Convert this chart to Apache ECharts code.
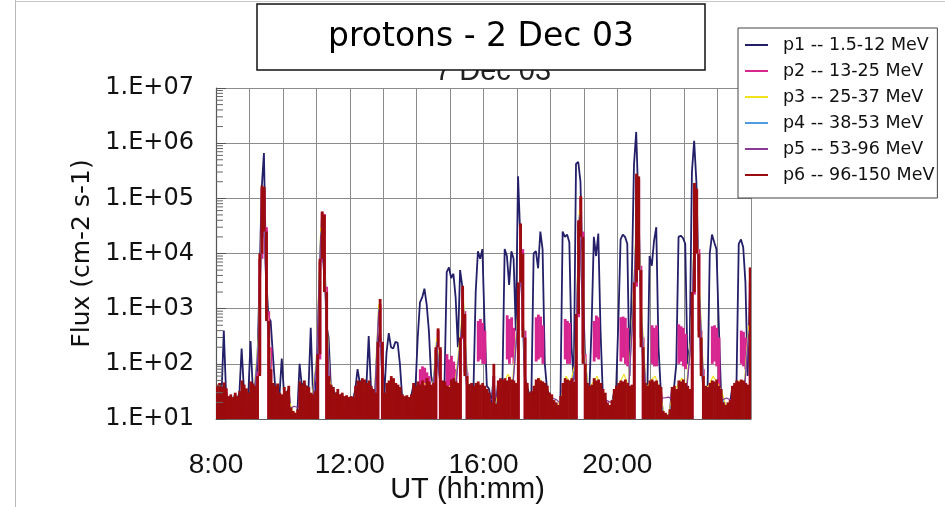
<!DOCTYPE html>
<html>
<head>
<meta charset="utf-8">
<script src="https://cdn.jsdelivr.net/npm/echarts@6/dist/echarts.min.js"></script>
<style>
  html, body { margin: 0; padding: 0; background: #fff; }
  #chart { width: 945px; height: 507px; }
</style>
</head>
<body>
<div id="chart"></div>
<script>
// Proton channel fluxes, 2 Dec 03, 8:00-24:00 UT.
// Time is in minutes after 08:00. Bins are 4 minutes wide (15 per row = one hour).

const BIN = 4;

// p1 -- 1.5-12 MeV, one reading per 4-minute bin (drawn as a line)
const p1 = [
  25, 30, 28, 400, 30, 22, 25, 20, 28, 22, 30, 190, 35, 30, 28,
  260, 35, 40, 80, 3e3, 1.5e5, 6.6e5, 4e3, 700, 600, 150, 40, 35, 28, 124,
  30, 28, 35, 14, 12, 12, 13, 100, 40, 45, 38, 35, 450, 28, 30,
  100, 2e3, 4.5e4, 2e4, 500, 300, 40, 35, 28, 30, 25, 28, 22, 25, 22,
  25, 22, 35, 80, 45, 50, 48, 42, 320, 38, 32, 28, 200, 400, 150,
  28, 160, 360, 200, 190, 250, 240, 100, 25, 22, 24, 22, 25, 40, 38,
  300, 1.3e3, 1.6e3, 2.3e3, 1.2e3, 400, 60, 40, 45, 150, 50, 45, 40, 4.6e3, 5.6e3,
  3.6e3, 4.3e3, 1.6e3, 200, 5e3, 2.5e3, 150, 40, 42, 38, 35, 2e3, 1.1e4, 8e3, 1.2e4,
  500, 40, 35, 18, 60, 16, 45, 50, 48, 1.2e4, 9e3, 2.7e3, 1.1e4, 8e3, 400,
  2.5e5, 2e4, 1e3, 60, 40, 28, 30, 1e4, 1.1e4, 5.4e3, 2.5e4, 1.2e4, 100, 35, 28,
  25, 18, 16, 14, 22, 2.5e4, 2e4, 2.2e4, 1.6e4, 200, 50, 4.2e5, 4.6e5, 2e5, 3e3,
  150, 40, 35, 500, 2e4, 9e3, 2.3e4, 400, 30, 25, 16, 15, 18, 30, 35,
  600, 1.8e4, 2.2e4, 2e4, 1.5e4, 60, 3e3, 4e5, 1.6e6, 8e4, 1.5e3, 100, 40, 30, 9e3,
  6e3, 1.7e4, 3e4, 200, 35, 12, 11, 11, 12, 35, 38, 100, 2e4, 2.1e4, 1.9e4,
  1.5e4, 100, 200, 3e5, 1.1e6, 2e5, 3e3, 150, 40, 35, 30, 1e4, 2.2e4, 1.6e4, 1.2e4,
  600, 35, 16, 15, 16, 18, 35, 40, 45, 1.5e4, 1.8e4, 1.3e4, 3e3, 60, 2e3
];

// p2 -- 13-25 MeV, per-bin minimum and maximum
const p2Lo = [
  10, 10, 10, 10, 10, 10, 10, 10, 10, 10, 10, 10, 10, 10, 10,
  10, 10, 10, 10, 70, 8e3, 2e4, 800, 10, 10, 10, 10, 10, 10, 10,
  10, 10, 10, 10, 10, 10, 10, 10, 10, 10, 10, 10, 10, 10, 10,
  10, 120, 7e3, 2.5e3, 10, 10, 10, 10, 10, 10, 10, 10, 10, 10, 10,
  10, 10, 10, 10, 10, 10, 10, 10, 10, 10, 10, 10, 10, 200, 10,
  10, 10, 10, 10, 10, 10, 10, 10, 10, 10, 10, 10, 10, 10, 10,
  10, 10, 10, 10, 10, 10, 10, 10, 10, 180, 10, 10, 10, 10, 10,
  10, 10, 10, 10, 10, 280, 70, 10, 10, 10, 10, 10, 110, 120, 100,
  100, 10, 10, 10, 10, 10, 10, 10, 10, 10, 120, 100, 130, 100, 10,
  10, 2.5e3, 400, 10, 10, 10, 10, 10, 110, 120, 130, 100, 10, 10, 10,
  10, 10, 10, 10, 10, 10, 120, 100, 100, 10, 10, 10, 700, 1.8e4, 150,
  10, 10, 10, 10, 110, 130, 120, 10, 10, 10, 10, 10, 10, 10, 10,
  10, 110, 130, 100, 90, 10, 10, 10, 2.5e3, 6e3, 300, 10, 10, 10, 10,
  100, 90, 90, 10, 10, 10, 10, 10, 10, 10, 10, 10, 100, 110, 90,
  80, 10, 10, 10, 1.8e3, 1.2e4, 400, 80, 10, 10, 10, 10, 100, 110, 90,
  10, 10, 10, 10, 10, 10, 10, 10, 10, 10, 100, 90, 80, 10, 10
];
const p2Hi = [
  30, 28, 25, 35, 30, 20, 22, 18, 25, 20, 24, 30, 28, 26, 22,
  30, 28, 30, 70, 8e3, 1.5e5, 1.4e5, 3e4, 900, 200, 30, 28, 30, 22, 20,
  25, 22, 28, 12, 11, 11, 12, 30, 28, 32, 26, 25, 22, 20, 24,
  120, 7e3, 5.5e4, 5.2e4, 2.5e3, 80, 30, 26, 22, 25, 20, 22, 18, 20, 18,
  20, 18, 28, 32, 30, 35, 33, 30, 32, 28, 25, 22, 200, 1.2e3, 250,
  22, 30, 35, 40, 38, 30, 28, 25, 20, 18, 20, 18, 20, 30, 28,
  35, 80, 90, 85, 70, 60, 35, 30, 180, 400, 180, 35, 40, 150, 120,
  140, 110, 80, 35, 280, 2.2e3, 900, 70, 30, 32, 28, 35, 600, 650, 550,
  400, 30, 25, 15, 60, 14, 35, 38, 36, 40, 760, 650, 700, 450, 35,
  2.5e3, 3e4, 1.2e4, 400, 30, 22, 24, 30, 700, 780, 720, 500, 30, 28, 22,
  20, 16, 15, 14, 20, 35, 650, 600, 550, 40, 35, 700, 3.5e4, 1e5, 2.5e4,
  150, 32, 30, 32, 600, 750, 700, 30, 28, 22, 15, 14, 16, 25, 30,
  35, 700, 720, 680, 450, 32, 35, 2.5e3, 2.4e5, 2.2e5, 6e3, 300, 32, 30, 35,
  500, 450, 500, 35, 30, 12, 11, 11, 12, 30, 32, 28, 520, 480, 450,
  350, 32, 28, 1.8e3, 1.7e5, 1.4e5, 1.2e4, 400, 80, 30, 28, 35, 480, 500, 450,
  300, 28, 15, 14, 15, 16, 30, 35, 38, 40, 400, 380, 300, 30, 3e3
];

// p3, p4, p5 -- one reading per 8 minutes (8 per row)
const p3 = [
  25, 22, 20, 18, 22, 25, 20, 24,
  30, 300, 1.3e5, 900, 45, 30, 25, 22,
  20, 12, 14, 30, 25, 22, 120, 3e4,
  3e3, 50, 25, 20, 22, 18, 20, 30,
  35, 30, 28, 25, 1.2e3, 28, 30, 35,
  28, 18, 16, 18, 20, 30, 45, 40,
  30, 300, 35, 30, 40, 35, 200, 1.5e3,
  40, 30, 35, 40, 35, 18, 14, 40,
  45, 65, 45, 500, 8e3, 30, 22, 40,
  55, 40, 25, 18, 15, 25, 60, 45,
  100, 6e4, 200, 35, 45, 60, 30, 18,
  15, 30, 45, 65, 40, 1e3, 1.2e5, 800,
  35, 50, 60, 35, 12, 12, 30, 40,
  55, 40, 300, 1e5, 2e3, 35, 40, 60,
  45, 30, 16, 18, 40, 50, 45, 500
];
const p4 = [
  20, 18, 16, 15, 18, 20, 16, 20,
  25, 250, 1.1e5, 700, 35, 25, 20, 18,
  16, 11, 12, 25, 20, 18, 100, 2.5e4,
  2.5e3, 40, 20, 16, 18, 15, 16, 25,
  30, 25, 22, 20, 1e3, 22, 25, 30,
  22, 15, 14, 15, 16, 25, 35, 30,
  25, 250, 30, 25, 32, 28, 160, 1.2e3,
  32, 25, 28, 32, 28, 15, 12, 32,
  35, 45, 35, 400, 7e3, 25, 18, 32,
  40, 32, 20, 15, 13, 20, 45, 35,
  80, 5e4, 160, 28, 35, 45, 25, 15,
  13, 25, 35, 45, 32, 800, 1e5, 600,
  28, 40, 45, 28, 11, 11, 25, 32,
  42, 32, 250, 8e4, 1.5e3, 28, 32, 45,
  35, 25, 14, 15, 32, 40, 35, 400
];
const p5 = [
  18, 20, 15, 16, 20, 18, 17, 20,
  22, 200, 1e5, 600, 30, 22, 18, 16,
  15, 17, 16, 22, 18, 16, 90, 2.2e4,
  2e3, 35, 18, 15, 16, 14, 15, 22,
  25, 22, 20, 18, 900, 20, 22, 25,
  20, 22, 24, 20, 18, 22, 30, 25,
  22, 220, 25, 22, 28, 25, 140, 1e3,
  28, 22, 25, 28, 25, 22, 24, 28,
  30, 35, 30, 350, 6e3, 22, 20, 28,
  35, 28, 18, 24, 22, 18, 38, 30,
  70, 4.5e4, 140, 25, 30, 38, 22, 22,
  20, 22, 30, 38, 28, 700, 9e4, 500,
  25, 35, 38, 25, 24, 25, 22, 28,
  36, 28, 220, 7e4, 1.2e3, 25, 28, 38,
  30, 22, 24, 22, 28, 35, 30, 350
];

// p6 -- 96-150 MeV, per-bin minimum and maximum
const p6Lo = [
  10, 10, 10, 10, 10, 10, 10, 10, 10, 10, 10, 10, 10, 10, 10,
  10, 10, 10, 10, 60, 1e4, 2.5e4, 600, 10, 10, 10, 10, 10, 10, 10,
  10, 10, 10, 10, 10, 10, 10, 10, 10, 10, 10, 10, 10, 10, 10,
  10, 150, 8e3, 2e3, 10, 10, 10, 10, 10, 10, 10, 10, 10, 10, 10,
  10, 10, 10, 10, 10, 10, 10, 10, 10, 10, 10, 10, 10, 250, 10,
  10, 10, 10, 10, 10, 10, 10, 10, 10, 10, 10, 10, 10, 10, 10,
  10, 10, 10, 10, 10, 10, 10, 10, 10, 200, 10, 10, 10, 10, 10,
  10, 10, 10, 10, 10, 300, 60, 10, 10, 10, 10, 10, 10, 10, 10,
  10, 10, 10, 10, 10, 10, 10, 10, 10, 10, 10, 10, 10, 10, 10,
  10, 3e3, 300, 10, 10, 10, 10, 10, 10, 10, 10, 10, 10, 10, 10,
  10, 10, 10, 10, 10, 10, 10, 10, 10, 10, 10, 10, 800, 2e4, 100,
  10, 10, 10, 10, 10, 10, 10, 10, 10, 10, 10, 10, 10, 10, 10,
  10, 10, 10, 10, 10, 10, 10, 10, 3e3, 5e3, 200, 10, 10, 10, 10,
  10, 10, 10, 10, 10, 10, 10, 10, 10, 10, 10, 10, 10, 10, 10,
  10, 10, 10, 10, 2e3, 1e4, 300, 60, 10, 10, 10, 10, 10, 10, 10,
  10, 10, 10, 10, 10, 10, 10, 10, 10, 10, 10, 10, 10, 10, 10
];
const p6Hi = [
  42, 45, 38, 46, 36, 26, 28, 25, 30, 26, 32, 50, 42, 36, 30,
  48, 44, 40, 60, 1e4, 1.7e5, 1.6e5, 2.5e4, 600, 80, 45, 40, 44, 30, 28,
  38, 32, 40, 16, 14, 13, 15, 48, 42, 50, 40, 38, 30, 28, 32,
  150, 8e3, 5.8e4, 5e4, 2e3, 60, 42, 38, 30, 35, 28, 30, 26, 27, 25,
  26, 25, 40, 50, 48, 55, 52, 45, 50, 40, 35, 30, 250, 1.5e3, 250,
  30, 45, 50, 60, 55, 45, 42, 38, 28, 26, 27, 25, 28, 45, 40,
  48, 42, 50, 40, 55, 48, 42, 45, 200, 440, 200, 50, 48, 40, 38,
  52, 55, 48, 45, 300, 2.6e3, 800, 60, 42, 45, 40, 45, 48, 42, 45,
  40, 35, 30, 20, 100, 19, 50, 55, 52, 55, 50, 58, 52, 50, 45,
  3e3, 3.5e4, 1e4, 300, 45, 30, 32, 40, 52, 55, 50, 48, 45, 40, 30,
  28, 22, 20, 18, 26, 45, 55, 52, 50, 55, 48, 800, 4e4, 1.1e5, 2e4,
  100, 45, 40, 42, 55, 50, 52, 45, 35, 30, 20, 18, 22, 35, 40,
  45, 50, 48, 52, 45, 40, 42, 3e3, 2.8e5, 2.5e5, 5e3, 200, 45, 40, 50,
  52, 48, 50, 42, 38, 14, 13, 12, 15, 38, 40, 35, 50, 48, 52,
  45, 40, 35, 2e3, 1.9e5, 1.5e5, 1e4, 300, 60, 40, 38, 45, 50, 48, 52,
  40, 35, 20, 18, 20, 22, 40, 45, 50, 48, 52, 50, 45, 42, 5.6e3
];

const seriesNames = [
  'p1 -- 1.5-12 MeV', 'p2 -- 13-25 MeV', 'p3 -- 25-37 MeV',
  'p4 -- 38-53 MeV', 'p5 -- 53-96 MeV', 'p6 -- 96-150 MeV'
];
const seriesColors = ['#231f68', '#d82690', '#f3e21c', '#4f9de0', '#8a3a94', '#9c0b0d'];

const xTickMinutes = [0, 240, 480, 720];
const xTickLabels = ['8:00', '12:00', '16:00', '20:00'];
const yTickLabels = ['1.E+01', '1.E+02', '1.E+03', '1.E+04', '1.E+05', '1.E+06', '1.E+07'];

// ---- helpers -------------------------------------------------------------
const lineData = (vals, step) => vals.map((v, i) => [i * step + step / 2, v]);
const bandData = (lo, hi) => hi.map((h, i) => [i * BIN, lo[i], h]);

function renderBand(params, api) {
  const t = api.value(0);
  const top = api.coord([t, api.value(2)]);
  const bot = api.coord([t + BIN, api.value(1)]);
  return {
    type: 'rect',
    shape: { x: top[0], y: top[1], width: bot[0] - top[0] + 0.6, height: Math.max(bot[1] - top[1], 1.3) },
    style: { fill: api.visual('color') }
  };
}

// each channel gets its own z so later channels paint over earlier ones
function lineSeries(idx, vals, step, width) {
  const c = seriesColors[idx];
  return {
    type: 'line', name: seriesNames[idx], data: lineData(vals, step), z: 2 + idx,
    symbol: 'none', showSymbol: false, animation: false,
    lineStyle: { color: c, width: width }, itemStyle: { color: c }
  };
}
function bandSeries(idx, lo, hi) {
  return {
    type: 'custom', name: seriesNames[idx], data: bandData(lo, hi), z: 2 + idx,
    renderItem: renderBand, encode: { x: 0, y: [1, 2] }, clip: true,
    itemStyle: { color: seriesColors[idx] }, animation: false, silent: true
  };
}

// logarithmic minor ticks (2..9 in each decade) along the left edge
const minorTicks = [];
for (let e = 1; e < 7; e++) for (let m = 2; m <= 9; m++) minorTicks.push([0, m * Math.pow(10, e)]);

const chart = echarts.init(document.getElementById('chart'), null, { renderer: 'canvas' });

chart.setOption({
  backgroundColor: '#fff',
  animation: false,
  title: [
    {
      text: '7 Dec 03', left: 435, top: 57, padding: 0, z: 5,
      textStyle: { fontFamily: 'Liberation Sans', fontSize: 29, fontWeight: 'normal', color: '#222' }
    },
    {
      text: 'protons - 2 Dec 03', left: 257, top: 4, padding: [13, 71, 13, 71], z: 8,
      borderColor: '#111', borderWidth: 1.5, backgroundColor: '#fff',
      textStyle: { fontFamily: 'DejaVu Sans', fontSize: 33, fontWeight: 'normal', color: '#000', lineHeight: 40 }
    }
  ],
  legend: {
    data: seriesNames, orient: 'vertical', left: 738, top: 28, z: 20,
    icon: 'rect', itemWidth: 23, itemHeight: 2, itemGap: 6,
    padding: [7, 3, 13, 7], borderColor: '#444', borderWidth: 1, backgroundColor: '#fff',
    selectedMode: false,
    textStyle: { fontFamily: 'DejaVu Sans', fontSize: 17.5, color: '#111', lineHeight: 20, padding: [0, 0, 0, 10] }
  },
  grid: { left: 216, right: 194, top: 88, bottom: 88, outerBoundsMode: 'none', containLabel: false },
  xAxis: {
    type: 'value', min: 0, max: 960, interval: 60,
    axisLine: { show: true, lineStyle: { color: '#666', width: 1 } },
    axisTick: { show: false },
    splitLine: { show: true, lineStyle: { color: '#8c8c8c', width: 1 } },
    axisLabel: {
      margin: 32, fontFamily: 'Liberation Sans', fontSize: 28, color: '#111',
      formatter: v => { const i = xTickMinutes.indexOf(v); return i >= 0 ? xTickLabels[i] : ''; }
    },
    name: 'UT (hh:mm)', nameLocation: 'middle', nameGap: 56, nameMoveOverlap: false,
    nameTextStyle: { fontFamily: 'Liberation Sans', fontSize: 29, color: '#111', padding: [0, 32, 0, 0] }
  },
  yAxis: {
    type: 'log', logBase: 10, min: 10, max: 1e7, splitNumber: 6,
    axisLine: { show: true, lineStyle: { color: '#555', width: 1.2 } },
    axisTick: { show: true, inside: true, length: 10, lineStyle: { color: '#555' } },
    splitLine: { show: true, lineStyle: { color: '#8c8c8c', width: 1 } },
    axisLabel: {
      margin: 22, fontFamily: 'DejaVu Sans', fontSize: 24, color: '#111',
      formatter: v => yTickLabels[Math.round(Math.log10(v)) - 1] || ''
    },
    name: 'Flux (cm-2 s-1)', nameLocation: 'middle', nameRotate: 90, nameGap: 121, nameMoveOverlap: false,
    nameTextStyle: { fontFamily: 'DejaVu Sans', fontSize: 25, color: '#111' }
  },
  graphic: [
    { type: 'line', shape: { x1: 15.5, y1: 0, x2: 15.5, y2: 507 }, style: { stroke: '#b8b8b8', lineWidth: 1 } },
    { type: 'line', shape: { x1: 15, y1: 1.5, x2: 945, y2: 1.5 }, style: { stroke: '#c8c8c8', lineWidth: 1 } }
  ],
  series: [
    lineSeries(0, p1, BIN, 1.8),
    bandSeries(1, p2Lo, p2Hi),
    lineSeries(2, p3, 8, 1.2),
    lineSeries(3, p4, 8, 1.2),
    lineSeries(4, p5, 8, 1.2),
    bandSeries(5, p6Lo, p6Hi),
    {
      type: 'custom', name: 'yMinorTicks', data: minorTicks, silent: true, animation: false,
      encode: { x: 0, y: 1 }, z: 12,
      renderItem: (params, api) => {
        const p = api.coord([0, api.value(1)]);
        return { type: 'line', shape: { x1: p[0], y1: p[1], x2: p[0] + 7, y2: p[1] }, style: { stroke: '#666', lineWidth: 1 } };
      }
    }
  ]
});
</script>
</body>
</html>
